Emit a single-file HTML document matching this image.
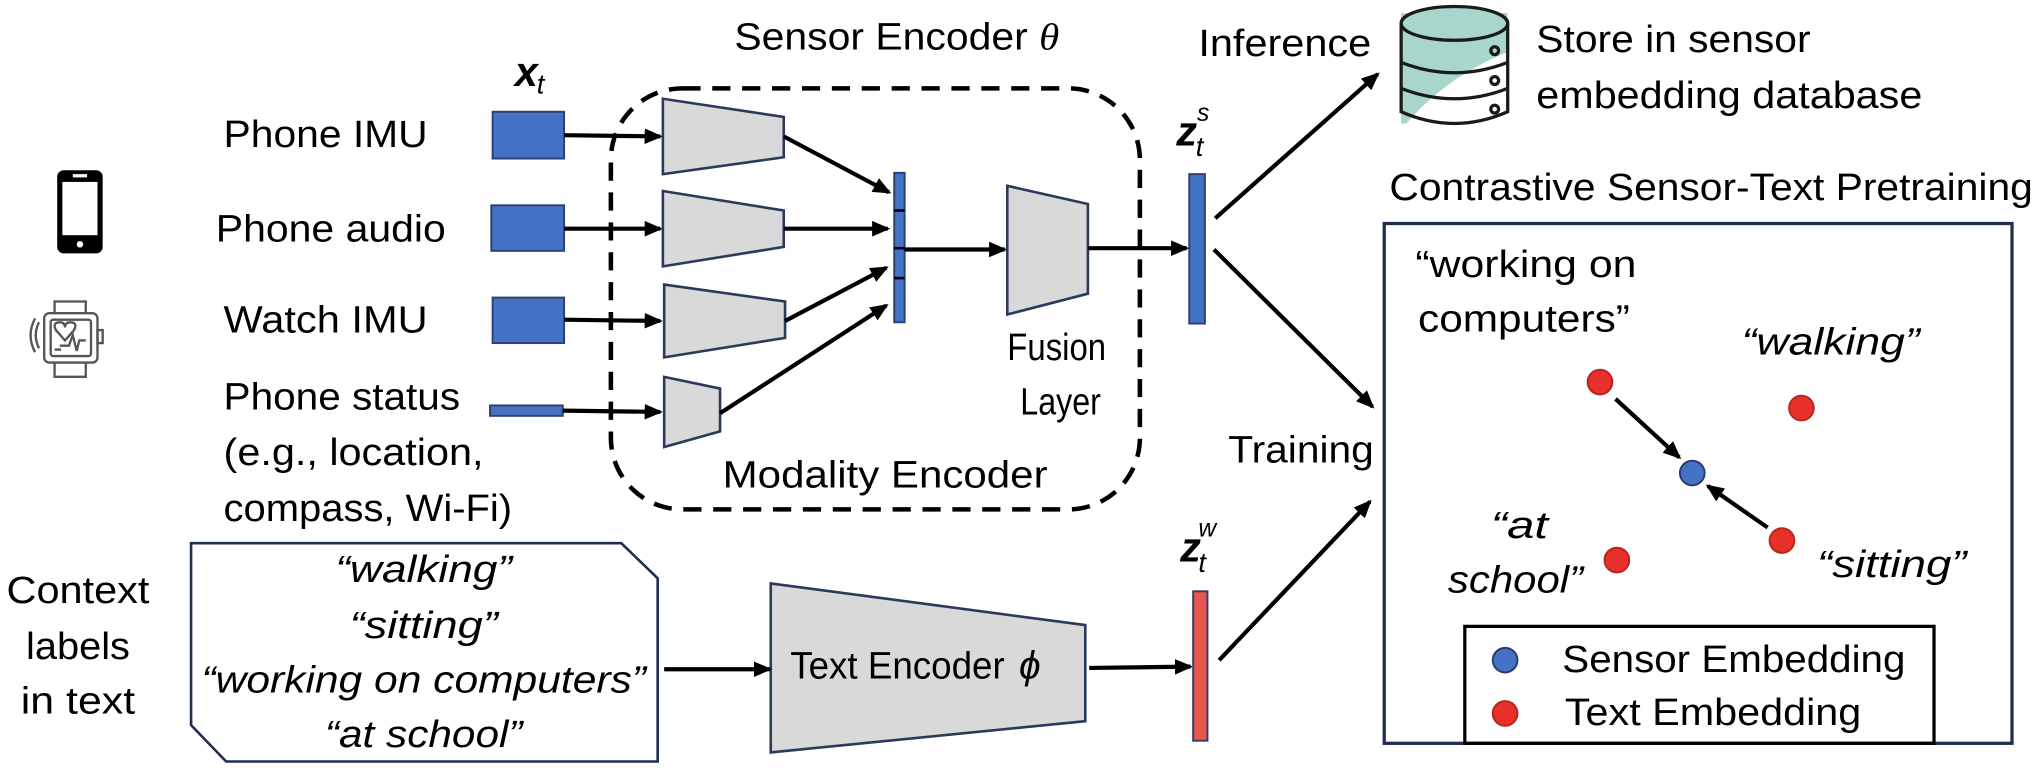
<!DOCTYPE html>
<html><head><meta charset="utf-8"><style>
html,body{margin:0;padding:0;background:#fff;}
svg{display:block;}
text{font-family:"Liberation Sans",sans-serif;fill:#000;}
.it{font-style:italic;}
</style></head><body>
<svg width="2038" height="768" viewBox="0 0 1568 591" preserveAspectRatio="none" xmlns="http://www.w3.org/2000/svg">
<defs>
<marker id="ah" markerWidth="14" markerHeight="12" refX="12" refY="6" orient="auto" markerUnits="userSpaceOnUse">
<path d="M0,0 L14,6 L0,12 Z" fill="#000"/></marker>
<clipPath id="dbc"><rect x="1078" y="10" width="82" height="85"/></clipPath>
</defs>
<g font-size="29">
<text x="565" y="38" textLength="250" lengthAdjust="spacingAndGlyphs">Sensor Encoder <tspan class="it" font-family="Liberation Serif">θ</tspan></text>
<text x="396" y="66" font-family="Liberation Serif" font-weight="bold" font-style="italic" font-size="32">x</text>
<text x="413" y="72" font-family="Liberation Serif" font-style="italic" font-size="21">t</text>
<rect x="470" y="68" width="407" height="324" rx="55" fill="none" stroke="#000" stroke-width="3.5" stroke-dasharray="14,9"/>
<text x="172" y="113" textLength="157" lengthAdjust="spacingAndGlyphs">Phone IMU</text>
<text x="166" y="186" textLength="177" lengthAdjust="spacingAndGlyphs">Phone audio</text>
<text x="172" y="256" textLength="157" lengthAdjust="spacingAndGlyphs">Watch IMU</text>
<text x="172" y="315" textLength="182" lengthAdjust="spacingAndGlyphs">Phone status</text>
<text x="172" y="358" textLength="200" lengthAdjust="spacingAndGlyphs">(e.g., location,</text>
<text x="172" y="401" textLength="222" lengthAdjust="spacingAndGlyphs">compass, Wi-Fi)</text>
<rect x="44" y="131" width="35" height="64" rx="5" fill="#000"/>
<rect x="48" y="140" width="27" height="41" fill="#fff"/>
<rect x="56" y="134" width="11" height="2.5" fill="#fff"/>
<circle cx="61.5" cy="188" r="2.5" fill="#fff"/>
<g fill="none" stroke="#555" stroke-width="1.8">
<path d="M42,241 L42,232 L66,232 L66,241"/>
<path d="M42,279 L42,290 L66,290 L66,279"/>
<rect x="34" y="241" width="41" height="38" rx="4"/>
<rect x="39" y="246" width="31" height="28" rx="2"/>
<rect x="75" y="254" width="4" height="10"/>
<path d="M30,248 Q25,258 30,268 M27,245 Q20,258 27,271"/>
<path d="M50,262 L43,254 Q40,248 46,248 Q50,248 50,252 Q50,248 54,248 Q60,248 57,254 Z"/>
<path d="M46,266 L53,266 L56,258 L59,270 L61,262 L66,262"/>
<path d="M42,269 L47,269"/>
</g>
<g fill="#4472c4" stroke="#2f3f6f" stroke-width="1.5">
<rect x="379" y="86" width="55" height="36"/>
<rect x="378" y="158" width="56" height="35"/>
<rect x="379" y="229" width="55" height="35"/>
<rect x="377" y="312" width="56" height="8"/>
</g>
<g stroke="#000" stroke-width="3.2" fill="none" marker-end="url(#ah)">
<line x1="434" y1="104" x2="508" y2="105"/>
<line x1="434" y1="176" x2="508" y2="176"/>
<line x1="434" y1="246" x2="508" y2="247"/>
<line x1="433" y1="316" x2="508" y2="317"/>
</g>
<g fill="#d9d9d9" stroke="#2b3a5c" stroke-width="2">
<polygon points="510,76 603,90 603,121 510,134"/>
<polygon points="510,147 603,162 603,190 510,205"/>
<polygon points="511,219 604,232 604,260 511,275"/>
<polygon points="511,290 554,299 554,332 511,344"/>
<polygon points="775,143 837,157 837,226 775,242"/>
<polygon points="593,449 835,481 835,555 593,579"/>
</g>
<rect x="688" y="133" width="8" height="115" fill="#4472c4" stroke="#2f3f6f" stroke-width="1.5"/>
<g stroke="#000" stroke-width="2"><line x1="688" y1="162" x2="696" y2="162"/><line x1="688" y1="191" x2="696" y2="191"/><line x1="688" y1="214" x2="696" y2="214"/></g>
<g stroke="#000" stroke-width="3.2" fill="none" marker-end="url(#ah)">
<line x1="603" y1="105" x2="684" y2="148"/>
<line x1="603" y1="176" x2="683" y2="176"/>
<line x1="604" y1="247" x2="682" y2="206"/>
<line x1="554" y1="318" x2="682" y2="235"/>
<line x1="696" y1="192" x2="773" y2="192"/>
<line x1="837" y1="191" x2="913" y2="191"/>
<line x1="935" y1="168" x2="1060" y2="57"/>
<line x1="934" y1="192" x2="1056" y2="313"/>
<line x1="938" y1="508" x2="1054" y2="386"/>
<line x1="838" y1="514" x2="916" y2="513"/>
<line x1="511" y1="515" x2="592" y2="515"/>
<line x1="1243" y1="307" x2="1292" y2="352"/>
<line x1="1360" y1="406" x2="1314" y2="374"/>
</g>
<text x="775" y="277" textLength="76" lengthAdjust="spacingAndGlyphs">Fusion</text>
<text x="785" y="319" textLength="62" lengthAdjust="spacingAndGlyphs">Layer</text>
<text x="556" y="375" textLength="250" lengthAdjust="spacingAndGlyphs">Modality Encoder</text>
<rect x="915" y="134" width="12" height="115" fill="#4472c4" stroke="#2f3f6f" stroke-width="1.5"/>
<rect x="918" y="455" width="11" height="115" fill="#e8564e" stroke="#2f3f6f" stroke-width="1.5"/>
<text x="905" y="112" font-family="Liberation Serif" font-weight="bold" font-style="italic" font-size="32">z</text>
<text x="920" y="120" font-family="Liberation Serif" font-style="italic" font-size="21">t</text>
<text x="921" y="93" font-family="Liberation Serif" font-style="italic" font-size="19">s</text>
<text x="908" y="432" font-family="Liberation Serif" font-weight="bold" font-style="italic" font-size="32">z</text>
<text x="922" y="440" font-family="Liberation Serif" font-style="italic" font-size="21">t</text>
<text x="922" y="413" font-family="Liberation Serif" font-style="italic" font-size="19">w</text>
<text x="922" y="43" textLength="133" lengthAdjust="spacingAndGlyphs">Inference</text>
<text x="945" y="356" textLength="112" lengthAdjust="spacingAndGlyphs">Training</text>
<g clip-path="url(#dbc)"><path d="M1078,10 L1160,10 L1160,40 Q1110,60 1078,100 Z" fill="#a8d5cc"/></g>
<g fill="none" stroke="#1a1a1a" stroke-width="2.5">
<ellipse cx="1119" cy="18" rx="41" ry="13" fill="#a8d5cc"/>
<path d="M1078,18 L1078,86 Q1119,104 1160,86 L1160,18"/>
<path d="M1078,48 Q1119,64 1160,48"/>
<path d="M1078,68 Q1119,84 1160,68"/>
<circle cx="1150" cy="39" r="3"/><circle cx="1150" cy="62" r="3"/><circle cx="1150" cy="84" r="3"/>
</g>
<text x="1182" y="40" textLength="211" lengthAdjust="spacingAndGlyphs">Store in sensor</text>
<text x="1182" y="83" textLength="297" lengthAdjust="spacingAndGlyphs">embedding database</text>
<text x="1069" y="154" textLength="495" lengthAdjust="spacingAndGlyphs">Contrastive Sensor-Text Pretraining</text>
<rect x="1065" y="172" width="483" height="400" fill="none" stroke="#1f2d50" stroke-width="2.5"/>
<text x="1089" y="213" textLength="170" lengthAdjust="spacingAndGlyphs">“working on</text>
<text x="1091" y="255" textLength="163" lengthAdjust="spacingAndGlyphs">computers”</text>
<text x="1340" y="273" class="it" textLength="137" lengthAdjust="spacingAndGlyphs">“walking”</text>
<text x="1147" y="414" class="it" textLength="44" lengthAdjust="spacingAndGlyphs">“at</text>
<text x="1114" y="456" class="it" textLength="104" lengthAdjust="spacingAndGlyphs">school”</text>
<text x="1398" y="444" class="it" textLength="115" lengthAdjust="spacingAndGlyphs">“sitting”</text>
<g stroke="#b3261e" stroke-width="1.5" fill="#e8302a">
<circle cx="1231" cy="294" r="9.5"/><circle cx="1386" cy="314" r="9.5"/>
<circle cx="1244" cy="431" r="9.5"/><circle cx="1371" cy="416" r="9.5"/>
<circle cx="1158" cy="549" r="9.5"/>
</g>
<g stroke="#2b3a6e" stroke-width="1.5" fill="#4472c4">
<circle cx="1302" cy="364" r="9.5"/><circle cx="1158" cy="508" r="9.5"/>
</g>
<rect x="1127" y="482" width="361" height="90" fill="none" stroke="#000" stroke-width="2.5"/>
<text x="1202" y="517" textLength="264" lengthAdjust="spacingAndGlyphs">Sensor Embedding</text>
<text x="1204" y="558" textLength="228" lengthAdjust="spacingAndGlyphs">Text Embedding</text>
<text x="60" y="464" text-anchor="middle" textLength="110" lengthAdjust="spacingAndGlyphs">Context</text>
<text x="60" y="507" text-anchor="middle" textLength="80" lengthAdjust="spacingAndGlyphs">labels</text>
<text x="60" y="549" text-anchor="middle" textLength="88" lengthAdjust="spacingAndGlyphs">in text</text>
<polygon points="147,418 478,418 506,445 506,586 174,586 147,558" fill="#fff" stroke="#1f2d50" stroke-width="2"/>
<g class="it">
<text x="326" y="448" text-anchor="middle" textLength="136" lengthAdjust="spacingAndGlyphs">“walking”</text>
<text x="326" y="491" text-anchor="middle" textLength="114" lengthAdjust="spacingAndGlyphs">“sitting”</text>
<text x="326" y="533" text-anchor="middle" textLength="342" lengthAdjust="spacingAndGlyphs">“working on computers”</text>
<text x="326" y="575" text-anchor="middle" textLength="152" lengthAdjust="spacingAndGlyphs">“at school”</text>
</g>
<text x="608" y="522" textLength="165" lengthAdjust="spacingAndGlyphs">Text Encoder</text>
<text x="784" y="522" font-family="Liberation Serif" font-style="italic" font-size="30">ϕ</text>
</g>
</svg>
</body></html>
